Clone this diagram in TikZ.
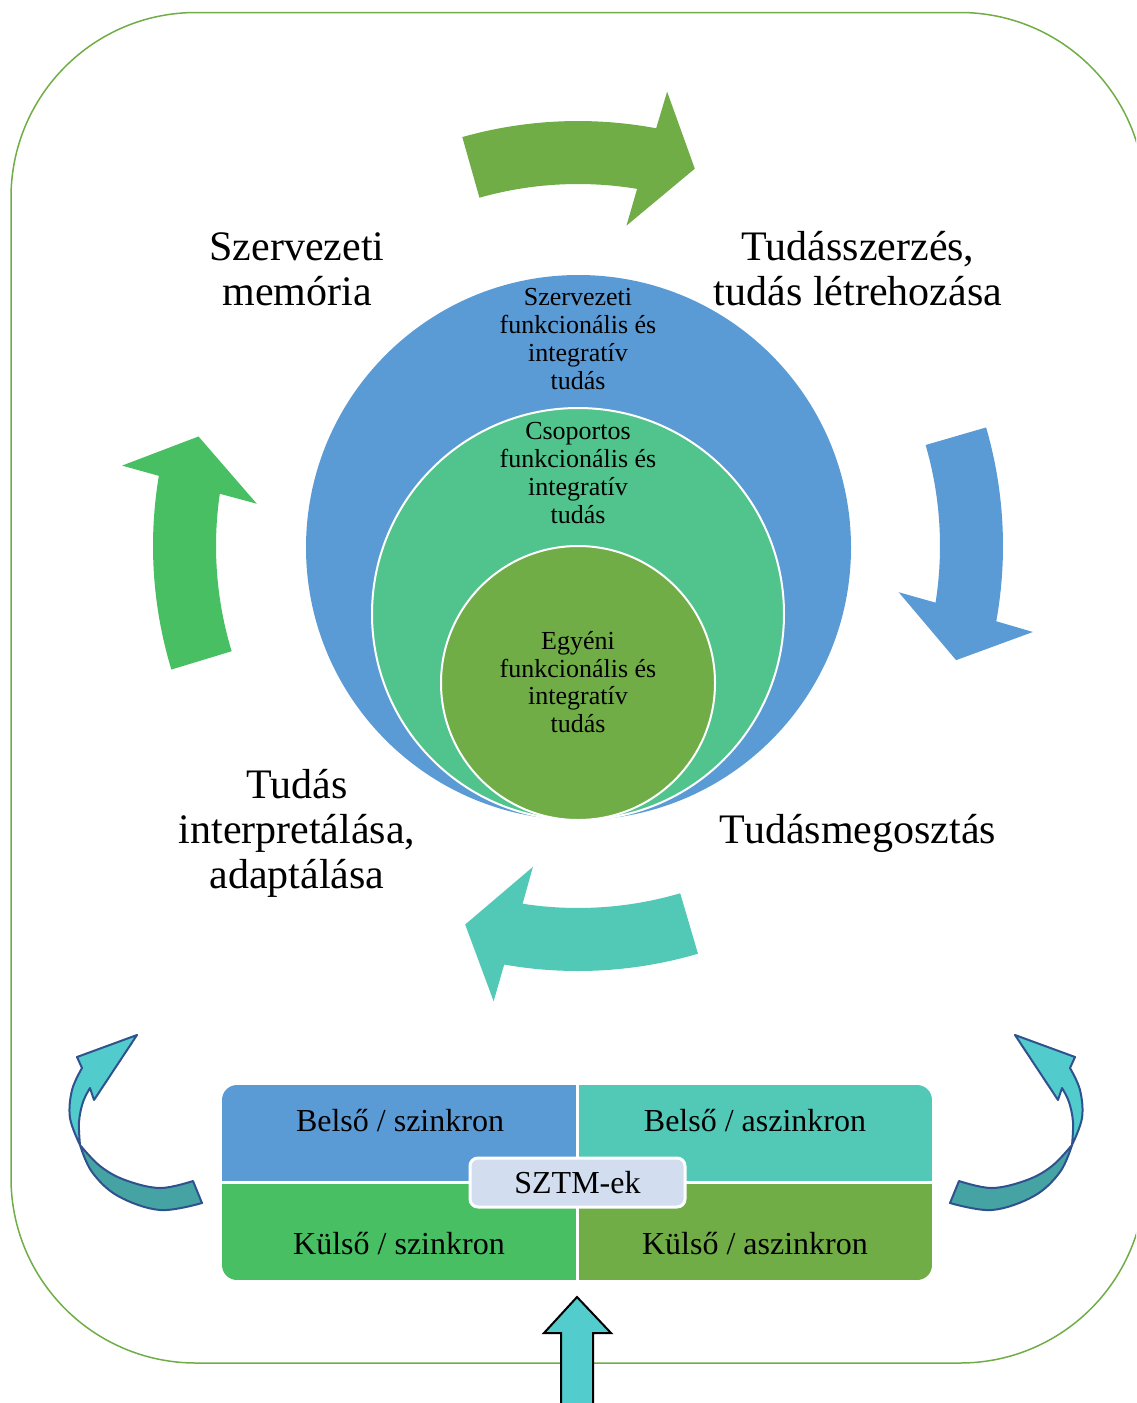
\documentclass[tikz,border=0pt]{standalone}
\usepackage{fontspec}
\setmainfont{Liberation Serif}
\definecolor{cgreen}{HTML}{70AD47}
\definecolor{cblue}{HTML}{5B9BD5}
\definecolor{cteal}{HTML}{52C9B7}
\definecolor{cmid}{HTML}{50C48C}
\definecolor{clgreen}{HTML}{48BF63}
\definecolor{cyanlight}{HTML}{52CBCC}
\definecolor{cyandark}{HTML}{46A3A3}
\definecolor{cout}{HTML}{2F528F}
\definecolor{sztmfill}{HTML}{D2DEEF}
\definecolor{cup}{HTML}{52CCCC}
\newcommand\cycarrow[2]{%
  \fill[#2] (#1:425) arc[start angle=#1, end angle=#1-26.4, radius=425]
    -- ({#1-26.9}:463) -- ({#1-33}:395) -- ({#1-24.4}:324) -- ({#1-25.2}:362)
    arc[start angle=#1-25.2, end angle=#1, radius=362] -- cycle;}
\newcommand\twistarrow{%
  \filldraw[fill=cyandark, draw=cout, line width=1pt, line join=round]
    plot[smooth, tension=0.6] coordinates {(202,1203) (160,1210) (118,1196) (92,1172) (80,1145)}
    -- plot[smooth, tension=0.6] coordinates {(80,1145) (100,1166) (125,1180) (160,1188) (193,1181)} -- cycle;
  \filldraw[fill=cyanlight, draw=cout, line width=1pt, line join=round]
    plot[smooth, tension=0.6] coordinates {(80,1145) (70,1118) (72,1090) (82,1068)}
    -- (77,1057) -- (137,1035) -- (94,1100) -- (90,1088)
    -- plot[smooth, tension=0.6] coordinates {(90,1088) (83,1102) (79,1122) (80,1145)} -- cycle;}
\tikzset{
  biglabel/.style={align=center, font=\fontsize{21}{22.5}\selectfont},
  smalllabel/.style={align=center, font=\fontsize{13}{13.9}\selectfont},
  celllabel/.style={font=\fontsize{16}{18}\selectfont},
}
\begin{document}
\begin{tikzpicture}[x=0.5pt,y=-0.5pt]
\useasboundingbox (0,0) rectangle (1136,1403);
\clip (0,0) rectangle (1136,1403);
% frame
\draw[cgreen, line width=0.75pt, rounded corners=92.5pt] (11,12.5) rectangle (1145,1363);
% circles
\fill[cblue] (578.5,547.5) circle[radius=272.5];
\filldraw[fill=cmid, draw=white, line width=1pt] (578,614) circle[radius=206];
\filldraw[fill=cgreen, draw=white, line width=1pt] (578,683) circle[radius=137];
\node[smalllabel] (org) at (578,339) {Szervezeti\\funkcionális és\\integratív\\tudás};
\node[smalllabel] (grp) at (578,473) {Csoportos\\funkcionális és\\integratív\\tudás};
\node[smalllabel] (ind) at (578,682) {Egyéni\\funkcionális és\\integratív\\tudás};
% cycle arrows
\begin{scope}[shift={(578,546)}, yscale=-1]
  \cycarrow{105.8}{cgreen}
  \cycarrow{16.2}{cblue}
  \cycarrow{-73.6}{cteal}
  \cycarrow{196.9}{clgreen}
\end{scope}
% labels
\node[biglabel] (mem) at (297,269) {Szervezeti\\memória};
\node[biglabel] (acq) at (858,269) {Tudásszerzés,\\tudás létrehozása};
\node[biglabel] (share) at (858,833) {Tudásmegosztás};
\node[biglabel] (interp) at (297,833) {Tudás\\interpretálása,\\adaptálása};
% table
\begin{scope}
  \clip[rounded corners=7.5pt] (222,1085) rectangle (932,1280);
  \fill[cblue] (222,1085) rectangle (577,1182.5);
  \fill[cteal] (577,1085) rectangle (932,1182.5);
  \fill[clgreen] (222,1182.5) rectangle (577,1280);
  \fill[cgreen] (577,1182.5) rectangle (932,1280);
\end{scope}
\draw[white, line width=1.5pt] (577.5,1085) -- (577.5,1280);
\draw[white, line width=1.5pt] (222,1182.5) -- (932,1182.5);
\node[celllabel] (bs) at (400,1121) {Belső / szinkron};
\node[celllabel] (ba) at (755,1121) {Belső / aszinkron};
\node[celllabel] (ks) at (399,1244) {Külső / szinkron};
\node[celllabel] (ka) at (755,1244) {Külső / aszinkron};
\node[celllabel, fill=sztmfill, draw=white, line width=1.5pt, rounded corners=4pt,
      minimum width=107.5pt, minimum height=24.5pt, inner sep=0pt] (sztm) at (577.5,1182.5) {SZTM-ek};
% curved arrows
\twistarrow
\begin{scope}[shift={(1152,0)}, xscale=-1]
  \twistarrow
\end{scope}
% up arrow
\filldraw[fill=cup, draw=black, line width=1pt] (577,1297) -- (611,1333) -- (593,1333) -- (593,1420)
  -- (561,1420) -- (561,1333) -- (544,1333) -- cycle;
\end{tikzpicture}
\end{document}
